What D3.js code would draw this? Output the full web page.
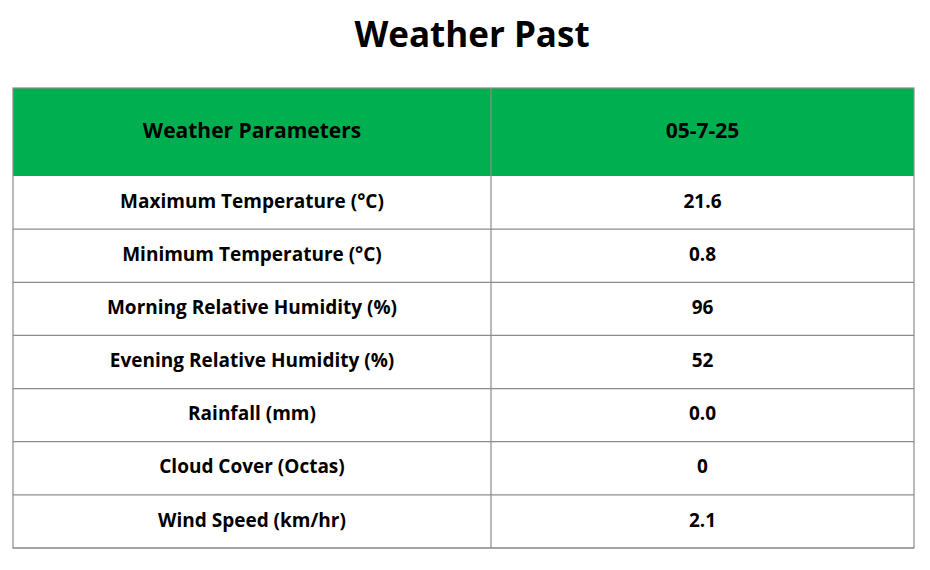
<!DOCTYPE html>
<html><head><meta charset="utf-8">
<script src="https://cdn.jsdelivr.net/npm/d3@7"></script>
<style>body{margin:0;background:#fff}</style>
</head><body>
<script>
const title = "Weather Past";
const headers = ["Weather Parameters", "05-7-25"];
const parameters = ["Maximum Temperature (°C)","Minimum Temperature (°C)","Morning Relative Humidity (%)","Evening Relative Humidity (%)","Rainfall (mm)","Cloud Cover (Octas)","Wind Speed (km/hr)"];
const values = ["21.6","0.8","96","52","0.0","0","2.1"];

(function(){
const W = 930, H = 570;
const svg = d3.select("body").append("svg").attr("width", W).attr("height", H);
const font = "'Open Sans', 'Liberation Sans', sans-serif";
const tLeft = 13, tRight = 914, tMid = 491, tTop = 88, headBottom = 176, tBottom = 548;

svg.append("text").attr("x", 472).attr("y", 38).attr("text-anchor", "middle")
  .attr("dominant-baseline", "middle").attr("font-family", font).attr("font-weight", "bold")
  .attr("font-size", 35).attr("fill", "#000").text(title);

svg.append("rect").attr("x", tLeft).attr("y", tTop).attr("width", tRight - tLeft)
  .attr("height", headBottom - tTop).attr("fill", "#00B050");

const y = d3.scaleBand().domain(d3.range(parameters.length)).range([headBottom, tBottom]);
const colX = [(tLeft + tMid) / 2, (tMid + tRight) / 2];

headers.forEach((h, i) => svg.append("text").attr("x", colX[i]).attr("y", (tTop + headBottom) / 2)
  .attr("text-anchor", "middle").attr("dominant-baseline", "middle").attr("font-family", font)
  .attr("font-weight", "bold").attr("font-size", 21).attr("fill", "#000").text(h));

const rows = svg.selectAll("g.row").data(parameters.map((p, i) => ({p, v: values[i], i})))
  .enter().append("g");
rows.append("line").attr("x1", tLeft).attr("x2", tRight)
  .attr("y1", d => y(d.i) + y.bandwidth()).attr("y2", d => y(d.i) + y.bandwidth())
  .attr("stroke", "#8c8c8c").attr("stroke-width", 1.2);
rows.append("text").attr("x", colX[0]).attr("y", d => y(d.i) + y.bandwidth() / 2)
  .attr("text-anchor", "middle").attr("dominant-baseline", "middle").attr("font-family", font)
  .attr("font-weight", "bold").attr("font-size", 19).text(d => d.p);
rows.append("text").attr("x", colX[1]).attr("y", d => y(d.i) + y.bandwidth() / 2)
  .attr("text-anchor", "middle").attr("dominant-baseline", "middle").attr("font-family", font)
  .attr("font-weight", "bold").attr("font-size", 19).text(d => d.v);

svg.append("rect").attr("x", tLeft).attr("y", tTop).attr("width", tRight - tLeft)
  .attr("height", tBottom - tTop).attr("fill", "none").attr("stroke", "#8c8c8c").attr("stroke-width", 1.2);
svg.append("line").attr("x1", tMid).attr("x2", tMid).attr("y1", tTop).attr("y2", tBottom)
  .attr("stroke", "#8c8c8c").attr("stroke-width", 1.2);
})();
</script>
</body></html>
